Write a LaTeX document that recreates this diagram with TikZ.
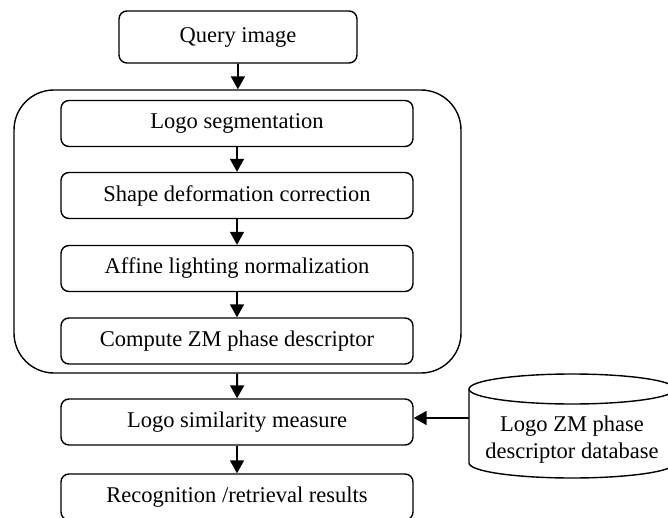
\documentclass[tikz,border=0pt]{standalone}
\usepackage{fontspec}
\setmainfont{Liberation Serif}
\usetikzlibrary{arrows.meta}

\tikzset{
	stepbox/.style={draw, rounded corners=8pt, line width=1.4pt,
		minimum width=352pt, minimum height=46pt, inner sep=0pt},
	arr/.style={line width=1.8pt, -{Triangle[length=13pt,width=14pt]}}
}

\begin{document}
\begin{tikzpicture}[x=1pt,y=-1pt,font=\fontsize{22.5}{27}\selectfont]
	\useasboundingbox (0,0) rectangle (668,518);
	\clip (0,0) rectangle (668,518);

	% Ingresso
	\node[stepbox, minimum width=238pt, minimum height=52pt] (query) at (238,37) {Query image};

	% Riquadro esterno
	\node[draw, rounded corners=40pt, line width=1.4pt,
		minimum width=447pt, minimum height=283pt] (frame) at (237.5,231.5) {};

	% Passi interni
	\node[stepbox] (seg)     at (237,123.5) {Logo segmentation};
	\node[stepbox] (deform)  at (237,195.5) {Shape deformation correction};
	\node[stepbox] (affine)  at (237,268.5) {Affine lighting normalization};
	\node[stepbox] (zm)      at (237,341)   {Compute ZM phase descriptor};

	% Confronto e risultati
	\node[stepbox] (sim) at (237,422) {Logo similarity measure};
	\node[stepbox] (res) at (237,497) {Recognition /retrieval results};

	% Database (cilindro)
	\draw[line width=1.4pt] (469,389) -- (469,463) arc (180:0:103 and 15) -- (675,389);
	\draw[line width=1.4pt] (572,389) ellipse (103 and 15);
	\node[align=center] (db) at (572,440) {Logo ZM phase\\descriptor database};
	\coordinate (dbl) at (469,418);

	% Frecce
	\draw[arr] (query) -- (frame);
	\draw[arr] (seg) -- (deform);
	\draw[arr] (deform) -- (affine);
	\draw[arr] (affine) -- (zm);
	\draw[arr] (frame) -- (sim);
	\draw[arr] (sim) -- (res);
	\draw[arr] (dbl) -- (dbl -| sim.east);
\end{tikzpicture}
\end{document}
